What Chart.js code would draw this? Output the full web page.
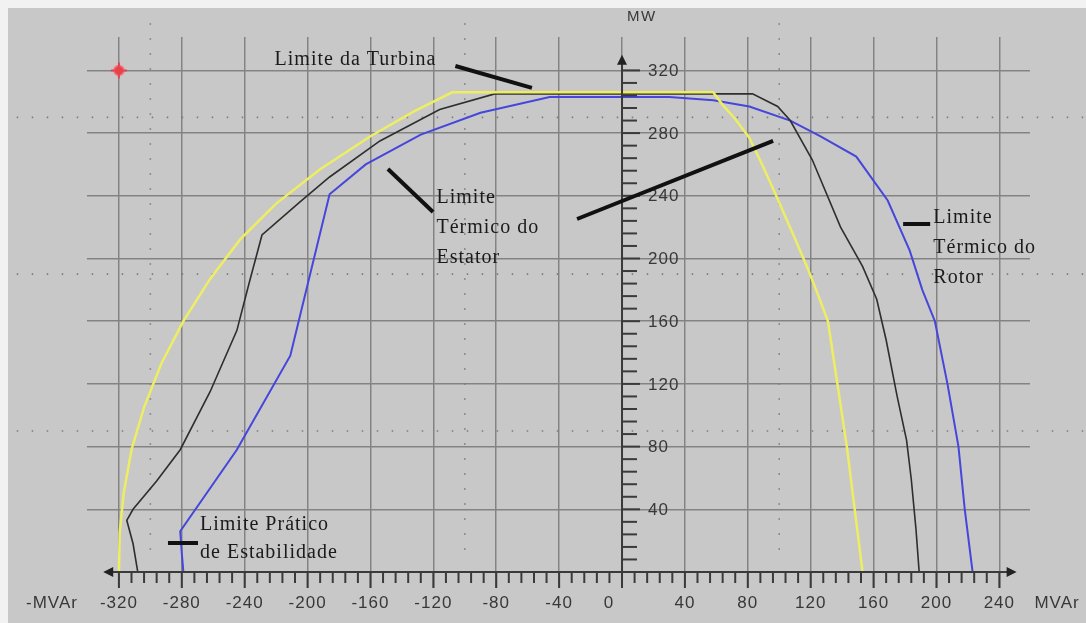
<!DOCTYPE html>
<html>
<head>
<meta charset="utf-8">
<script src="https://cdn.jsdelivr.net/npm/chart.js@4.4.1/dist/chart.umd.min.js"></script>
<style>
  html, body { margin: 0; padding: 0; background: #fff; }
  #wrap { width: 1086px; height: 623px; }
</style>
</head>
<body>
<div id="wrap"><canvas id="chart" width="1086" height="623"></canvas></div>
<script>
// curva amarela
const yellowQ = [-320, -319.5, -317, -312, -304, -293, -279, -262, -243, -220, -192, -160, -132, -108, 58, 64, 72, 81, 90, 99, 109, 118, 125, 131, 137, 143, 148, 153]
const yellowP = [0, 25, 50, 78, 105, 133, 160, 187, 212, 235, 257, 278, 294, 306, 306, 298, 289, 277, 258, 238, 215, 194, 176, 160, 120, 80, 40, 0]

// curva preta
const blackQ = [-308, -311, -315, -311, -296, -281, -262, -245, -237, -229, -205, -186, -154, -116, -81, 83, 99, 107, 121, 139, 153, 162, 168, 175, 181, 184, 187, 189]
const blackP = [0, 18, 33, 40, 58, 78, 115, 154, 185, 215, 236, 252, 275, 295, 305, 305, 297, 288, 263, 220, 195, 174, 148, 112, 84, 59, 27, 0]

// curva azul
const blueQ = [-279, -280, -281, -245, -211, -186, -163, -128, -90, -46, 30, 58, 81, 107, 126, 149, 169, 183, 191, 199, 207, 214, 218, 223]
const blueP = [0, 12, 26, 78, 138, 241, 260, 279, 293, 303, 303, 301, 297, 288, 278, 265, 237, 205, 180, 160, 120, 80, 40, 0]

// ponto vermelho
const markerQ = [-320]
const markerP = [320]

const xTicks = [-320, -280, -240, -200, -160, -120, -80, -40, 0, 40, 80, 120, 160, 200, 240]
const yTicks = [40, 80, 120, 160, 200, 240, 280, 320]
const dotQ = [-300, -100, 100]
const dotP = [90, 190, 290]

const toPts = (qs, ps) => qs.map((q, i) => ({x: q, y: ps[i]}))

const serif = '20px "Liberation Serif", "Times New Roman", serif'
const sans = '17px "Liberation Sans", Arial, sans-serif'

// textos e traços das anotações, em unidades dos eixos
const notes = [
  {lines: ['Limite da Turbina'], q: -221, p: 326.6, step: 0},
  {lines: ['Limite', 'Térmico do', 'Estator'], q: -118, p: 238.6, step: 19},
  {lines: ['Limite', 'Térmico do', 'Rotor'], q: 198, p: 225.8, step: 19},
  {lines: ['Limite Prático', 'de Estabilidade'], q: -268.4, p: 30, step: 18}
]
const leaders = [
  [-106, 322.8, -57.3, 308.8],
  [-148.9, 257.1, -120.2, 229.7],
  [-28.6, 225.2, 96.1, 275],
  [178.8, 222, 196, 222],
  [-288.8, 18.5, -269.7, 18.5]
]

const paper = {
  id: 'paper',
  beforeDraw(chart) {
    const {ctx, width, height} = chart
    ctx.save()
    ctx.fillStyle = '#f2f2f2'
    ctx.fillRect(0, 0, width, height)
    ctx.fillStyle = '#c8c8c8'
    ctx.fillRect(8, 8, width - 8, height - 8)
    ctx.restore()
  },
  beforeDatasetsDraw(chart) {
    const {ctx} = chart
    const x = chart.scales.x, y = chart.scales.y
    ctx.save()
    ctx.strokeStyle = '#7c7c7c'
    ctx.lineWidth = 1.6
    ctx.setLineDash([1.5, 13.5])
    dotQ.forEach(q => {
      const px = x.getPixelForValue(q)
      ctx.beginPath()
      ctx.moveTo(px, y.getPixelForValue(350))
      ctx.lineTo(px, y.getPixelForValue(10))
      ctx.stroke()
    })
    dotP.forEach(p => {
      const py = y.getPixelForValue(p)
      ctx.beginPath()
      ctx.moveTo(x.getPixelForValue(-385), py)
      ctx.lineTo(x.getPixelForValue(300), py)
      ctx.stroke()
    })
    ctx.restore()
  }
}

const axes = {
  id: 'axes',
  afterDatasetsDraw(chart) {
    const {ctx} = chart
    const x = chart.scales.x, y = chart.scales.y
    const x0 = x.getPixelForValue(0)
    const y0 = y.getPixelForValue(0)
    ctx.save()
    ctx.strokeStyle = '#3a3a3a'
    ctx.fillStyle = '#222'
    ctx.lineWidth = 2

    // eixo horizontal
    const left = x.getPixelForValue(-330), right = x.getPixelForValue(251)
    ctx.beginPath()
    ctx.moveTo(left + 6, y0)
    ctx.lineTo(right - 6, y0)
    ctx.stroke()
    ctx.beginPath()
    ctx.moveTo(left, y0); ctx.lineTo(left + 10, y0 - 5); ctx.lineTo(left + 10, y0 + 5); ctx.closePath()
    ctx.moveTo(right, y0); ctx.lineTo(right - 10, y0 - 5); ctx.lineTo(right - 10, y0 + 5); ctx.closePath()
    ctx.fill()
    for (let v = -320; v <= 240; v += 8) {
      const px = x.getPixelForValue(v)
      ctx.beginPath()
      ctx.moveTo(px, y0)
      ctx.lineTo(px, y0 + (v % 40 === 0 ? 16 : 11))
      ctx.stroke()
    }

    // eixo vertical
    const top = y.getPixelForValue(330)
    ctx.beginPath()
    ctx.moveTo(x0, y.getPixelForValue(-10))
    ctx.lineTo(x0, top + 6)
    ctx.stroke()
    ctx.beginPath()
    ctx.moveTo(x0, top); ctx.lineTo(x0 - 5, top + 10); ctx.lineTo(x0 + 5, top + 10); ctx.closePath()
    ctx.fill()
    for (let v = 8; v <= 320; v += 8) {
      const py = y.getPixelForValue(v)
      ctx.beginPath()
      ctx.moveTo(x0, py)
      ctx.lineTo(x0 + (v % 40 === 0 ? 18 : 15), py)
      ctx.stroke()
    }

    // rótulos
    ctx.fillStyle = '#383838'
    ctx.font = sans
    ctx.letterSpacing = '1px'
    ctx.textBaseline = 'middle'
    ctx.textAlign = 'center'
    xTicks.forEach(v => {
      const shift = v === 0 ? -13 : 0
      ctx.fillText(String(v), x.getPixelForValue(v) + shift, y0 + 31)
    })
    ctx.fillText('-MVAr', x.getPixelForValue(-362.6), y0 + 31)
    ctx.fillText('MVAr', x.getPixelForValue(276.7), y0 + 31)
    ctx.textAlign = 'left'
    yTicks.forEach(v => ctx.fillText(String(v), x0 + 26, y.getPixelForValue(v) + 1))
    ctx.font = '15px "Liberation Sans", Arial, sans-serif'
    ctx.letterSpacing = '1.5px'
    ctx.fillText('MW', x0 + 5, y.getPixelForValue(354))
    ctx.restore()
  }
}

const notesPlugin = {
  id: 'notes',
  afterDraw(chart) {
    const {ctx} = chart
    const x = chart.scales.x, y = chart.scales.y
    ctx.save()
    ctx.strokeStyle = '#111'
    ctx.lineWidth = 4
    ctx.lineCap = 'butt'
    leaders.forEach(([q1, p1, q2, p2]) => {
      ctx.beginPath()
      ctx.moveTo(x.getPixelForValue(q1), y.getPixelForValue(p1))
      ctx.lineTo(x.getPixelForValue(q2), y.getPixelForValue(p2))
      ctx.stroke()
    })
    ctx.fillStyle = '#1a1a1a'
    ctx.font = serif
    ctx.letterSpacing = '1px'
    ctx.textAlign = 'left'
    ctx.textBaseline = 'middle'
    notes.forEach(n => {
      n.lines.forEach((t, i) => {
        ctx.fillText(t, x.getPixelForValue(n.q), y.getPixelForValue(n.p - i * n.step))
      })
    })
    ctx.restore()
  }
}

const gridColor = '#838383'

new Chart(document.getElementById('chart'), {
  type: 'scatter',
  data: {
    datasets: [
      {
        label: 'Marcador',
        data: toPts(markerQ, markerP),
        pointStyle: 'cross',
        pointRadius: 8,
        borderColor: '#e8424e',
        borderWidth: 2,
        order: 0
      },
      {
        label: 'Marcador centro',
        data: toPts(markerQ, markerP),
        pointStyle: 'circle',
        pointRadius: 5,
        backgroundColor: '#e8424e',
        borderColor: '#f07a80',
        borderWidth: 1.5,
        order: 0
      },
      {
        label: 'Curva amarela',
        data: toPts(yellowQ, yellowP),
        showLine: true,
        borderColor: '#eeee62',
        borderWidth: 2.5,
        pointRadius: 0,
        tension: 0,
        order: 1
      },
      {
        label: 'Curva preta',
        data: toPts(blackQ, blackP),
        showLine: true,
        borderColor: '#2e2e2e',
        borderWidth: 1.6,
        pointRadius: 0,
        tension: 0,
        order: 2
      },
      {
        label: 'Curva azul',
        data: toPts(blueQ, blueP),
        showLine: true,
        borderColor: '#4646dc',
        borderWidth: 2,
        pointRadius: 0,
        tension: 0,
        order: 3
      }
    ]
  },
  options: {
    responsive: false,
    animation: false,
    devicePixelRatio: 1,
    layout: {padding: {left: 87, right: 56, top: 37, bottom: 35}},
    plugins: {
      legend: {display: false},
      tooltip: {enabled: false}
    },
    scales: {
      x: {
        type: 'linear',
        min: -340.3,
        max: 259.5,
        afterBuildTicks: axis => { axis.ticks = xTicks.map(v => ({value: v})) },
        ticks: {display: false},
        border: {display: false},
        grid: {color: gridColor, lineWidth: 1.5, drawTicks: false}
      },
      y: {
        type: 'linear',
        min: -10.2,
        max: 341.3,
        afterBuildTicks: axis => { axis.ticks = yTicks.map(v => ({value: v})) },
        ticks: {display: false},
        border: {display: false},
        grid: {color: gridColor, lineWidth: 1.5, drawTicks: false}
      }
    }
  },
  plugins: [paper, axes, notesPlugin]
})
</script>
</body>
</html>
